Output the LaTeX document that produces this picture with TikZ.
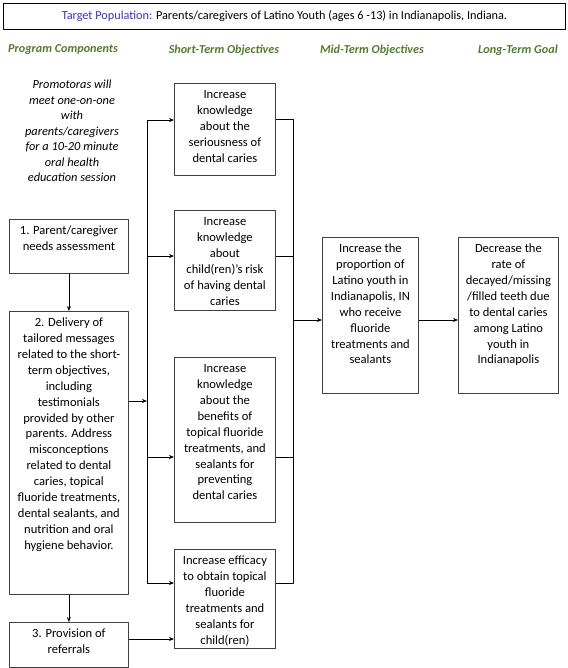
\documentclass[tikz,border=0pt]{standalone}
\usepackage{fontspec}
\setmainfont{Carlito}
\usetikzlibrary{arrows.meta}
\definecolor{hdgreen}{RGB}{80,125,45}
\definecolor{tpblue}{RGB}{51,51,204}
% text block of a box: width, height, lines
\newcommand{\bx}[3]{\parbox[t][#2][t]{#1}{\centering\rule{0pt}{15bp}#3}}
\begin{document}
\begin{tikzpicture}[x=1bp, y=-1bp, font=\fontsize{12.6}{16}\selectfont, line join=round, >={Stealth[length=5bp,width=4bp]},
  box/.style={draw=black!75, line width=0.8bp, inner sep=0pt, anchor=north west},
  head/.style={font=\fontsize{12.2}{14}\selectfont\bfseries\itshape, text=hdgreen},
  link/.style={line width=0.8bp}]
\useasboundingbox (0,0) rectangle (568,668);
\node[draw, line width=0.9bp, minimum width=562bp, minimum height=26bp, anchor=north west, font=\fontsize{12.3}{14}\selectfont] (tp) at (3,3)
  {\textcolor{tpblue}{Target Population:} Parents/caregivers of Latino Youth (ages 6 -13) in Indianapolis, Indiana.};
% column heads
\node[head] (hpc) at (63,50) {Program Components};
\node[head] (hst) at (224,50) {Short-Term Objectives};
\node[head] (hmt) at (372,50) {Mid-Term Objectives};
\node[head] (hlt) at (518,50) {Long-Term Goal};
\node[font=\fontsize{12.4}{15.5}\selectfont\itshape, align=center] (pr) at (72,131)
  {Promotoras will\\meet one-on-one\\with\\parents/caregivers\\for a 10-20 minute\\oral health\\education session};
% program components
\node[box] (b1) at (9,219) {\bx{119bp}{54bp}{1. Parent/caregiver\\needs assessment}};
\node[box] (b2) at (9,311) {\bx{119bp}{283bp}{2. Delivery of\\tailored messages\\related to the short-\\term objectives,\\including\\testimonials\\provided by other\\parents. Address\\misconceptions\\related to dental\\caries, topical\\fluoride treatments,\\dental sealants, and\\nutrition and oral\\hygiene behavior.}};
\node[box] (b3) at (9,622) {\bx{119bp}{45bp}{3. Provision of\\referrals}};
% short-term
\node[box] (sA) at (174,83) {\bx{101bp}{92bp}{Increase\\knowledge\\about the\\seriousness of\\dental caries}};
\node[box] (sB) at (174,210) {\bx{101bp}{100bp}{Increase\\knowledge\\about\\child(ren)’s risk\\of having dental\\caries}};
\node[box] (sC) at (174,357) {\bx{101bp}{165bp}{Increase\\knowledge\\about the\\benefits of\\topical fluoride\\treatments, and\\sealants for\\preventing\\dental caries}};
\node[box] (sD) at (174,549) {\bx{101bp}{99bp}{Increase efficacy\\to obtain topical\\fluoride\\treatments and\\sealants for\\child(ren)}};
% mid and long
\node[box] (mid) at (322,237) {\bx{96bp}{156bp}{Increase the\\proportion of\\Latino youth in\\Indianapolis, IN\\who receive\\fluoride\\treatments and\\sealants}};
\node[box] (long) at (458,237) {\bx{100bp}{156bp}{Decrease the\\rate of\\decayed/missing\\/filled teeth due\\to dental caries\\among Latino\\youth in\\Indianapolis}};
% buses
\path (147,120) coordinate (lA) (147,256) coordinate (lB) (147,401) coordinate (l2) (147,457) coordinate (lC) (147,583) coordinate (lD);
\path (293,119) coordinate (rA) (293,256) coordinate (rB) (293,320) coordinate (rM) (293,457) coordinate (rC) (293,583) coordinate (rD);
\draw[link,->] (b1.south) -- (b2.north);
\draw[link,->] (b2.south) -- (b3.north);
\draw[link,->] (b2.east |- l2) -- (l2);
\draw[link] (lA) -- (lD);
\draw[link,->] (lA) -- (sA.west |- lA);
\draw[link,->] (lB) -- (sB.west |- lB);
\draw[link,->] (lC) -- (sC.west |- lC);
\draw[link,->] (lD) -- (sD.west |- lD);
\draw[link,->] (b3.east |- 0,639) -- (sD.west |- 0,639);
\draw[link] (sA.east |- rA) -- (rA) -- (rD) -- (sD.east |- rD);
\draw[link] (sB.east |- rB) -- (rB);
\draw[link] (sC.east |- rC) -- (rC);
\draw[link,->] (rM) -- (mid.west |- rM);
\draw[link,->] (mid.east |- rM) -- (long.west |- rM);
\end{tikzpicture}
\end{document}
